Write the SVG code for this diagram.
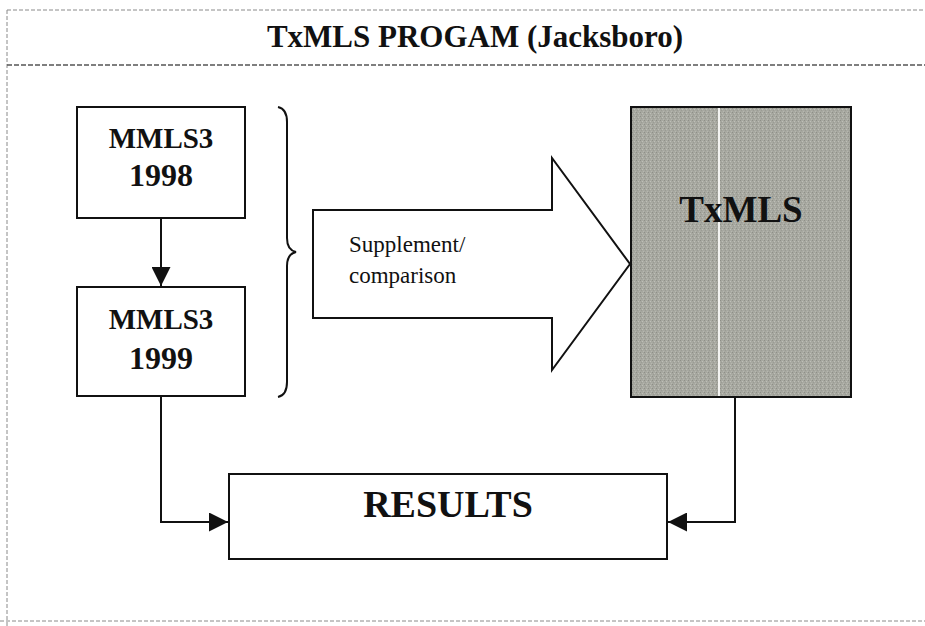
<svg xmlns="http://www.w3.org/2000/svg" width="925" height="626" viewBox="0 0 925 626">
  <style>
    .frame { fill: none; stroke: #8a8a8a; stroke-width: 1; stroke-dasharray: 4 2; }
    .frame-strong { fill: none; stroke: #555; stroke-width: 1.3; stroke-dasharray: 5 2; }
    .box { fill: #fff; stroke: #111; stroke-width: 2; }
    .shaded { fill: url(#grain); stroke: #111; stroke-width: 2; }
    .wire { fill: none; stroke: #111; stroke-width: 2; }
    .bold { font-family: "Liberation Serif", "Times New Roman", serif; font-weight: bold; fill: #111; text-anchor: middle; }
    .plain { font-family: "Liberation Serif", "Times New Roman", serif; fill: #111; }
  </style>
  <defs>
    <pattern id="grain" width="4" height="4" patternUnits="userSpaceOnUse">
      <rect width="4" height="4" fill="#a7a8a0"/>
      <rect x="0" y="0" width="1" height="1" fill="#8e8f88"/>
      <rect x="2" y="1" width="1" height="1" fill="#bebfb8"/>
      <rect x="1" y="2" width="1" height="1" fill="#9a9b94"/>
      <rect x="3" y="3" width="1" height="1" fill="#b6b7b0"/>
    </pattern>
    <marker id="head-lg" viewBox="0 0 10 10" refX="10" refY="5" markerWidth="20" markerHeight="19" markerUnits="userSpaceOnUse" orient="auto">
      <path d="M0,0 L10,5 L0,10 Z" fill="#111"/>
    </marker>
  </defs>

  <rect width="925" height="626" fill="#fff"/>

  <!-- page frame and title band -->
  <g id="frame">
    <line class="frame" x1="7" y1="10" x2="925" y2="10"/>
    <line class="frame" x1="7" y1="10" x2="7" y2="626"/>
    <line class="frame-strong" x1="7" y1="65" x2="925" y2="65"/>
    <line class="frame" x1="0" y1="621" x2="925" y2="621"/>
    <text class="bold" x="475" y="47" font-size="31">TxMLS PROGAM (Jacksboro)</text>
  </g>

  <g id="mmls3-1998">
    <rect class="box" x="77" y="107" width="168" height="111"/>
    <text class="bold" x="161" y="148" font-size="29">MMLS3</text>
    <text class="bold" x="161" y="186" font-size="32">1998</text>
  </g>

  <g id="mmls3-1999">
    <rect class="box" x="77" y="287" width="168" height="109"/>
    <text class="bold" x="161" y="329" font-size="29">MMLS3</text>
    <text class="bold" x="161" y="369" font-size="32">1999</text>
  </g>

  <g id="brace">
    <path class="wire" d="M278,107 Q287,109 287,122 L287,238 Q287,250 296,252 Q287,254 287,266 L287,382 Q287,395 278,397"/>
  </g>

  <g id="supplement-arrow">
    <polygon class="box" points="313,210 552,210 552,158 630,264 552,370 552,318 313,318"/>
    <text class="plain" x="349" y="252" font-size="23">Supplement/</text>
    <text class="plain" x="349" y="283" font-size="23">comparison</text>
  </g>

  <g id="txmls">
    <rect class="shaded" x="631" y="107" width="220" height="290"/>
    <line x1="719" y1="108" x2="719" y2="396" stroke="#f4f4f2" stroke-width="2"/>
    <text class="bold" x="741" y="222" font-size="37">TxMLS</text>
  </g>

  <g id="results">
    <rect class="box" x="229" y="474" width="438" height="85"/>
    <text class="bold" x="448" y="517" font-size="38">RESULTS</text>
  </g>

  <g id="connectors">
    <line class="wire" x1="161" y1="218" x2="161" y2="286" marker-end="url(#head-lg)"/>
    <polyline class="wire" points="161,396 161,522 228,522" marker-end="url(#head-lg)"/>
    <polyline class="wire" points="735,397 735,522 668,522" marker-end="url(#head-lg)"/>
  </g>
</svg>
